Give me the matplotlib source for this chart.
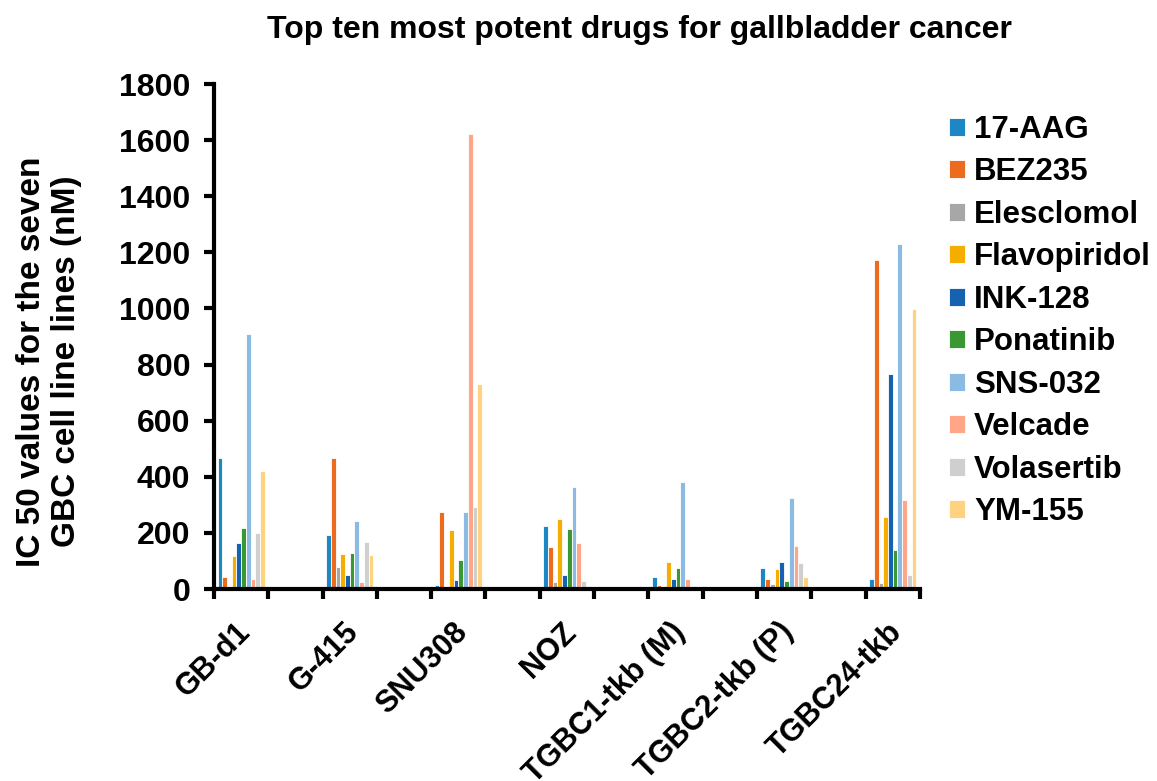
import matplotlib
matplotlib.use("Agg")
import matplotlib.pyplot as plt
import matplotlib.transforms as mtransforms
import numpy as np

plt.rcParams['font.family'] = ['Liberation Sans', 'DejaVu Sans']
plt.rcParams['font.weight'] = 'bold'

# Cell lines (each followed by an empty slot on the category axis, as in the source chart)
cell_lines = ["GB-d1", "G-415", "SNU308", "NOZ", "TGBC1-tkb (M)", "TGBC2-tkb (P)", "TGBC24-tkb"]

# IC50 values (nM), one list per drug
drugs = ["17-AAG", "BEZ235", "Elesclomol", "Flavopiridol", "INK-128",
         "Ponatinib", "SNS-032", "Velcade", "Volasertib", "YM-155"]
aag17 = [466, 193, 14, 223, 42, 75, 36]
bez235 = [42, 466, 274, 151, 14, 34, 1173]
elesclomol = [2, 78, 8, 24, 5, 17, 20]
flavopiridol = [118, 126, 209, 250, 97, 70, 256]
ink128 = [165, 49, 32, 51, 34, 97, 766]
ponatinib = [218, 128, 102, 213, 75, 30, 139]
sns032 = [910, 244, 274, 363, 380, 324, 1230]
velcade = [37, 24, 1621, 165, 34, 154, 316]
volasertib = [198, 168, 294, 30, 5, 93, 50]
ym155 = [421, 123, 732, 2, 0, 44, 997]
series = [aag17, bez235, elesclomol, flavopiridol, ink128,
          ponatinib, sns032, velcade, volasertib, ym155]

colors = ["#1C87C2", "#EC6B1E", "#A7A7A7", "#F5AE00", "#1563B0",
          "#3A9832", "#8BBBE2", "#FFA588", "#CFCFCF", "#FFD27F"]

fig = plt.figure(figsize=(11.57, 7.81), dpi=100)
ax = fig.add_axes([0.185, 0.2458, 0.61, 0.6466])

n_slots = 2 * len(cell_lines) - 1
centers = np.arange(len(cell_lines)) * 2 + 0.5
bar_w = 0.087
for i, (name, vals, c) in enumerate(zip(drugs, series, colors)):
    offs = (i - (len(drugs) - 1) / 2) * bar_w
    ax.bar(centers + offs, vals, width=bar_w, color=c, edgecolor='white',
           linewidth=0.6, label=name)

ax.set_xlim(0, n_slots)
ax.set_ylim(0, 1800)
ax.set_yticks(np.arange(0, 1801, 200))
ax.set_xticks(np.arange(0, n_slots + 1))
ax.set_xticklabels([])
ax.set_xticks(centers, minor=True)
ax.set_xticklabels(cell_lines, minor=True, rotation=45, ha='right',
                   rotation_mode='anchor', fontsize=22, fontweight='bold')
ax.tick_params(axis='x', which='minor', length=0, pad=20)
ax.tick_params(axis='x', which='major', length=7, width=3, direction='out')
ax.tick_params(axis='y', length=7, width=3, direction='out', labelsize=23, pad=10)
for lab in ax.get_yticklabels():
    lab.set_fontweight('bold')
shift = mtransforms.ScaledTranslation(-6 / 100, 0, fig.dpi_scale_trans)
for lab in ax.get_xticklabels(minor=True):
    lab.set_transform(lab.get_transform() + shift)

for s in ['top', 'right']:
    ax.spines[s].set_visible(False)
for s in ['left', 'bottom']:
    ax.spines[s].set_linewidth(3)

fig.text(0.553, 0.962, "Top ten most potent drugs for gallbladder cancer",
         ha='center', va='center', fontsize=23, fontweight='bold')
fig.text(0.0425, 0.537, "IC 50 values for the seven\nGBC cell line lines (nM)",
         rotation=90, ha='center', va='center', fontsize=24,
         fontweight='bold', linespacing=1.15)

ax.legend(loc='upper left', bbox_to_anchor=(0.809, 0.869),
          bbox_transform=fig.transFigure, frameon=False, fontsize=22.5,
          handlelength=0.52, handleheight=0.52, handletextpad=0.3,
          labelspacing=0.40, borderaxespad=0)

fig.savefig("out.png", dpi=100)
